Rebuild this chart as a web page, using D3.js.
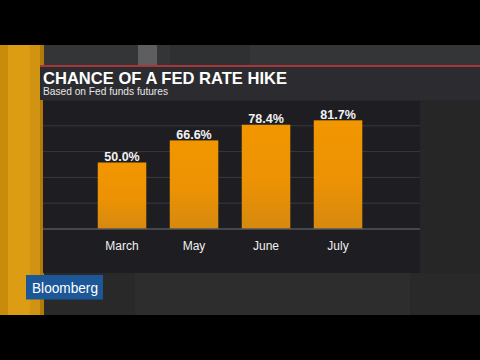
<!DOCTYPE html>
<html><head><meta charset="utf-8">
<script src="https://cdn.jsdelivr.net/npm/d3@7"></script>
<style>html,body{margin:0;padding:0;background:#000;}svg{display:block;}</style>
</head><body>
<script>
const categories = ["March", "May", "June", "July"];
const values = [50.0, 66.6, 78.4, 81.7];
const valueLabels = ["50.0%", "66.6%", "78.4%", "81.7%"];
const gridValues = [19.4, 38.8, 58.2, 77.6, 97];
const title = "CHANCE OF A FED RATE HIKE";
const subtitle = "Based on Fed funds futures";

const W = 480, H = 360;
const svg = d3.select("body").append("svg").attr("width", W).attr("height", H);
const defs = svg.append("defs");
const g1 = defs.append("linearGradient").attr("id","barGrad").attr("x1",0).attr("y1",0).attr("x2",0).attr("y2",1);
g1.append("stop").attr("offset","0%").attr("stop-color","#f29600");
g1.append("stop").attr("offset","55%").attr("stop-color","#ec9204");
g1.append("stop").attr("offset","100%").attr("stop-color","#d6890f");
const g2 = defs.append("linearGradient").attr("id","bgGrad").attr("x1",0).attr("y1",0).attr("x2",1).attr("y2",0);
g2.append("stop").attr("offset","0%").attr("stop-color","#2b2b2d");
g2.append("stop").attr("offset","100%").attr("stop-color","#232324");

// letterbox
svg.append("rect").attr("width",W).attr("height",H).attr("fill","#000");
// video background
svg.append("rect").attr("x",0).attr("y",45).attr("width",W).attr("height",270).attr("fill","url(#bgGrad)");
// top strip bits
svg.append("rect").attr("x",43).attr("y",45).attr("width",437).attr("height",21).attr("fill","#343536");
svg.append("rect").attr("x",138).attr("y",45).attr("width",19).attr("height",21).attr("fill","#5e5e60");
svg.append("rect").attr("x",170).attr("y",45).attr("width",80).attr("height",21).attr("fill","#2f3031");
// bottom band
svg.append("rect").attr("x",43).attr("y",273).attr("width",437).attr("height",42).attr("fill","#29292a");
svg.append("rect").attr("x",135).attr("y",273).attr("width",275).attr("height",42).attr("fill","#2d2d2e");
// orange strip
svg.append("rect").attr("x",0).attr("y",45).attr("width",43).attr("height",270).attr("fill","#c98b0a");
svg.append("rect").attr("x",8).attr("y",45).attr("width",22).attr("height",270).attr("fill","#dc9d15");
svg.append("rect").attr("x",30).attr("y",45).attr("width",13).attr("height",270).attr("fill","#d09412");
svg.append("rect").attr("x",40).attr("y",45).attr("width",4).attr("height",270).attr("fill","#b27a08");

// title panel
svg.append("rect").attr("x",40).attr("y",67).attr("width",440).attr("height",33).attr("fill","#2c2c30");
svg.append("rect").attr("x",40).attr("y",65).attr("width",440).attr("height",2).attr("fill","#a8353a");
// right side area
svg.append("rect").attr("x",420).attr("y",100).attr("width",60).attr("height",173).attr("fill","#262627");
// chart panel
svg.append("rect").attr("x",43).attr("y",100).attr("width",377).attr("height",173).attr("fill","#1e1e22");

svg.append("text").attr("x",43).attr("y",83.6).text(title)
  .attr("font-family","Liberation Sans, Arial, sans-serif").attr("font-weight","bold").attr("font-size",16.6)
  .attr("fill","#ffffff").attr("textLength",244).attr("lengthAdjust","spacingAndGlyphs");
svg.append("text").attr("x",43).attr("y",94.6).text(subtitle)
  .attr("font-family","Liberation Sans, Arial, sans-serif").attr("font-size",10).attr("fill","#e6e6e6")
  .attr("textLength",125).attr("lengthAdjust","spacingAndGlyphs");

const y = d3.scaleLinear().domain([0, 100]).range([229, 96]);
const x = d3.scaleBand().domain(categories).range([61.75, 398.3]).paddingInner(0.326).paddingOuter(0.5);

// gridlines
svg.append("g").selectAll("line").data(gridValues).join("line")
  .attr("x1",43).attr("x2",420).attr("y1",d=>y(d)).attr("y2",d=>y(d))
  .attr("stroke",(d,i)=> i===gridValues.length-1 ? "#2e2e33" : "#38383d").attr("stroke-width",1);

// bars
svg.append("g").selectAll("rect").data(values).join("rect")
  .attr("x",(d,i)=>x(categories[i])).attr("width",x.bandwidth())
  .attr("y",d=>y(d)).attr("height",d=>y(0)-y(d)).attr("fill","url(#barGrad)");

// baseline
svg.append("line").attr("x1",43).attr("x2",420).attr("y1",y(0)).attr("y2",y(0))
  .attr("stroke","#56565a").attr("stroke-width",1.5);

// value labels
svg.append("g").selectAll("text").data(values).join("text")
  .attr("x",(d,i)=>x(categories[i])+x.bandwidth()/2).attr("y",d=>y(d)-1.6)
  .attr("text-anchor","middle").text((d,i)=>valueLabels[i])
  .attr("font-family","Liberation Sans, Arial, sans-serif").attr("font-weight","bold").attr("font-size",12.5)
  .attr("fill","#f2f2f2");

// category axis
const xAxis = svg.append("g").attr("transform",`translate(0,${y(0)})`).call(d3.axisBottom(x).tickSize(0).tickPadding(12));
xAxis.select(".domain").remove();
xAxis.selectAll("text").attr("font-family","Liberation Sans, Arial, sans-serif").attr("font-size",12).attr("fill","#f0f0f0");

// Bloomberg logo
svg.append("rect").attr("x",26).attr("y",275).attr("width",77).attr("height",24.5).attr("fill","#1c5898");
svg.append("text").attr("x",32).attr("y",292.5).text("Bloomberg")
  .attr("font-family","Liberation Sans, Arial, sans-serif").attr("font-size",13.8).attr("fill","#ffffff")
  .attr("textLength",66).attr("lengthAdjust","spacingAndGlyphs");
</script>
</body></html>
